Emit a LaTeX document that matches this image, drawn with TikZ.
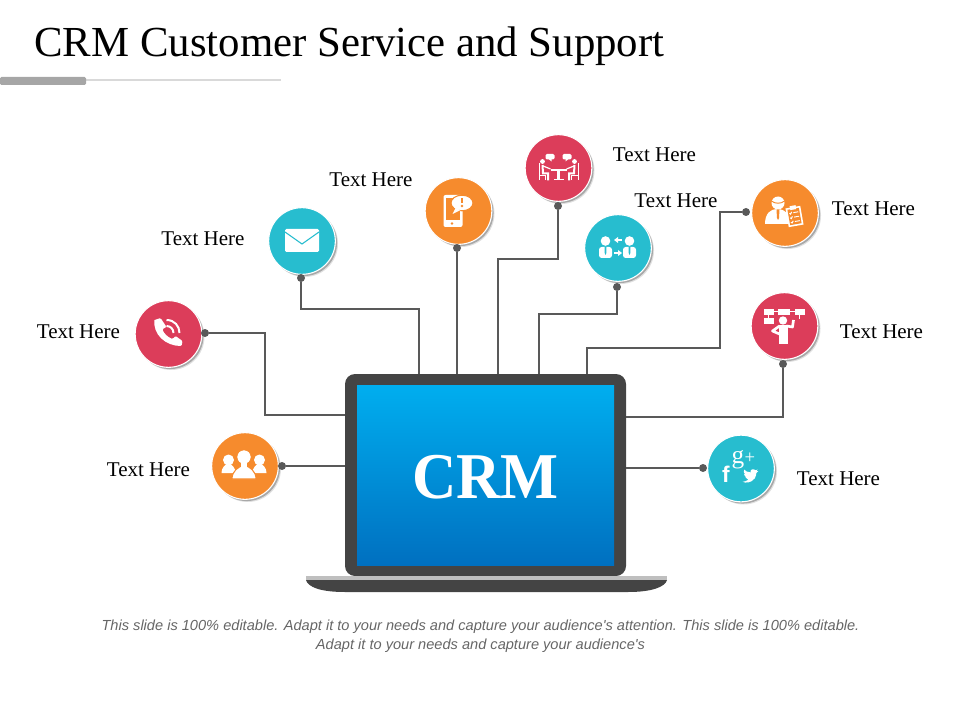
\documentclass[tikz,border=0pt]{standalone}
\usepackage{fontspec}
\setmainfont{Liberation Serif}
\newfontfamily\notefont{Liberation Sans}
\usetikzlibrary{shadows, positioning}
\definecolor{crmred}{HTML}{DC3D5A}
\definecolor{crmteal}{HTML}{27BDCF}
\definecolor{crmorange}{HTML}{F68B2D}
\definecolor{crmdark}{HTML}{444444}
\definecolor{crmline}{HTML}{595959}
\definecolor{crmtop}{HTML}{00AEEF}
\definecolor{crmbottom}{HTML}{0070C0}
\tikzset{
  badge/.style={circle, draw=white, line width=0.8pt, minimum size=50pt, inner sep=0pt,
    drop shadow={shadow xshift=2pt, shadow yshift=-2pt, fill=black, opacity=0.12},
    drop shadow={shadow xshift=1.3pt, shadow yshift=-1.3pt, fill=black, opacity=0.25}},
  tip/.style={circle, fill=crmline, minimum size=6pt, inner sep=0pt},
  wire/.style={draw=crmline, line width=1.5pt},
  label/.style={font=\fontsize{15.75}{18}\selectfont, text=black, inner sep=0pt, yshift=-0.75pt},
  ink/.style={fill=white, draw=none},
  pics/mailicon/.style={code={
    \fill[ink, rounded corners=1pt] (-17,-12) rectangle (17,11);
    \draw[crmteal, line width=0.8pt] (-17,-9) -- (0,3) -- (17,-9);
  }},
  pics/callicon/.style={code={
    \fill[ink, rounded corners=0.8pt] (-14,-14) -- (-8,-16) -- (-2,-7) -- (-6,-5) .. controls (-5,-1) and (-1,3) .. (4,5) -- (7,2) -- (14,7) -- (13,12) .. controls (-3,12) and (-16,0) .. (-14,-14);
    \draw[white, line width=1.5pt] (-2,-8) .. controls (2,-8) and (5,-5) .. (5,-1);
    \draw[white, line width=1.5pt] (-2,-14) .. controls (6,-14) and (11,-8) .. (11,-1);
  }},
  pics/teamicon/.style={code={
    \foreach \px/\py in {-16.5/-6, 14.5/-6} {
      \fill[ink] (\px,\py) circle (5.5);
      \fill[ink] (\px-7,\py+13) .. controls (\px-7,\py+8) and (\px-4,\py+5) .. (\px,\py+3) .. controls (\px+4,\py+5) and (\px+7,\py+8) .. (\px+7,\py+13) -- cycle;
    }
    \fill[ink, draw=crmorange, line width=0.8pt] (-1,-9) circle (7);
    \fill[ink, draw=crmorange, line width=0.8pt] (-13,13) .. controls (-13,5) and (-7,1) .. (-1,-1) .. controls (5,1) and (11,5) .. (11,13) -- cycle;
    \fill[ink] (-1,-9) circle (6.6);
    \fill[ink] (-4,-4) rectangle (2,2);
  }},
  pics/mobileicon/.style={code={
    \fill[ink, rounded corners=1.5pt] (-15,-16) rectangle (4,16);
    \fill[crmorange] (-12.5,-12.5) rectangle (1.5,9);
    \fill[crmorange] (-6.5,12.5) circle (1.4);
    \fill[ink, draw=crmorange, line width=0.8pt] (3.5,-8) ellipse (11 and 7.8);
    \fill[ink] (-3,-3) -- (-6,3) -- (2,-1) -- cycle;
    \fill[crmorange] (2.2,-13) rectangle (4.8,-7.5);
    \fill[crmorange] (3.5,-5) circle (1.4);
  }},
  pics/meetingicon/.style={code={
    \fill[ink, rounded corners=1pt] (-13,-14) rectangle (-4,-8.5);
    \fill[ink] (-10,-9) -- (-7,-9) -- (-7,-6.5) -- cycle;
    \fill[ink, rounded corners=1pt] (4,-14) rectangle (13,-8.5);
    \fill[ink] (7,-9) -- (10,-9) -- (7,-6.5) -- cycle;
    \fill[ink] (-8,1.5) rectangle (8,3);
    \fill[ink] (-1.2,3) rectangle (1.2,11);
    \fill[ink] (-5,11) rectangle (5,12.5);
    \foreach \sgn in {-1,1} {
      \fill[ink] (\sgn*16,-6.5) circle (2.4);
      \draw[white, line width=1.5pt] (\sgn*16,-3) -- (\sgn*15.5,5.5) -- (\sgn*10.5,5.5) -- (\sgn*10.5,12.5);
      \draw[white, line width=0.9pt] (\sgn*15.5,-2) -- (\sgn*8,1);
      \draw[white, line width=0.6pt] (\sgn*19.5,-5) -- (\sgn*19.5,12.5);
      \draw[white, line width=0.6pt] (\sgn*19.5,7.5) -- (\sgn*13,7.5) -- (\sgn*13,12.5);
    }
  }},
  pics/swapicon/.style={code={
    \foreach \sgn/\px in {-1/-12.5, 1/11.5} {
      \fill[ink] (\px,-7) circle (4.8);
      \fill[ink, rounded corners=2pt] (\px-6.5,10) rectangle (\px+6.5,-1);
      \fill[crmteal] (\px-1,-1) -- (\px+1,-1) -- (\px+0.8,5) -- (\px,7) -- (\px-0.8,5) -- cycle;
    }
    \fill[ink] (4,-9) rectangle (0,-7);
    \fill[ink] (0,-11) -- (0,-5) -- (-4,-8) -- cycle;
    \fill[ink] (-4,4) rectangle (0,6);
    \fill[ink] (0,2) -- (0,8) -- (4,5) -- cycle;
  }},
  pics/agenticon/.style={code={
    \fill[ink] (-7,-10) circle (6.5);
    \fill[ink] (-20,11) .. controls (-20,0) and (-14,-4) .. (-8,-4) .. controls (-3,-4) and (1,-2) .. (3,2) -- (3,11) -- cycle;
    \draw[crmorange, line width=0.7pt] (-13.5,-12) .. controls (-10,-9) and (-4,-9) .. (-0.5,-12);
    \fill[crmorange] (-8.5,-3.5) -- (-5.5,-3.5) -- (-6,5) -- (-7,7) -- (-8,5) -- cycle;
    \begin{scope}[shift={(9.5,3.5)}, rotate=10]
      \fill[ink] (-7.5,-9.5) rectangle (7.5,9.5);
      \fill[crmorange] (-5.8,-7.8) rectangle (5.8,7.8);
      \fill[ink] (-3,-11) rectangle (3,-7);
      \foreach \py in {-3,1.5,6} {
        \draw[white, line width=0.7pt] (-4.5,\py-1) -- (-3.5,\py) -- (-2,\py-2);
        \draw[white, line width=0.7pt] (-0.5,\py-1) -- (4.5,\py-1);
      }
    \end{scope}
  }},
  pics/planicon/.style={code={
    \fill[ink] (-21,-17) rectangle (-11,-11.5);
    \fill[ink] (-7,-17) rectangle (5,-11.5);
    \fill[ink] (10,-17) rectangle (20,-11.5);
    \fill[ink] (-21,-8) rectangle (-11,-2);
    \draw[white, line width=0.6pt] (-11,-14.2) -- (-7,-14.2) (5,-14.2) -- (10,-14.2) (-16,-11.5) -- (-16,-8) (15,-11.5) -- (15,-7);
    \fill[ink] (-1.5,-5.5) circle (4.2);
    \fill[ink] (-6,-1) -- (3,-1) -- (3,18) -- (-6,18) -- cycle;
    \draw[white, line width=2pt, line join=round] (-5,0) -- (-12,5) -- (-5,8);
    \draw[white, line width=2pt, line join=round] (2,0) -- (8,1) -- (9,-6);
  }},
  pics/socialicon/.style={code={
    \node[text=white, inner sep=0pt, font=\fontsize{17}{17}\bfseries\notefont] (fmark) at (-15,5.5) {f};
    \node[text=white, inner sep=0pt, font=\fontsize{19}{19}\selectfont] (gmark) at (-3,-9) {g};
    \node[text=white, inner sep=0pt, font=\fontsize{14}{14}\selectfont] (plusmark) at (9,-10) {+};
    \begin{scope}[shift={(5.2,3.2)}, scale=0.72]
    \fill[ink] (-5,14) .. controls (-1,16) and (7,16) .. (12,9) .. controls (14,6) and (14,3) .. (14,2) -- (17,-1) -- (14,-0.5) -- (16,-3) -- (13,-2) .. controls (10,-5) and (5,-3) .. (6,1) .. controls (2,1) and (-1,-1) .. (-3,-3) .. controls (-4,0) and (-3,2) .. (-1,4) -- (-3,3) .. controls (-3,6) and (-1,7) .. (1,8) -- (-1,8) .. controls (0,10) and (1,10) .. (3,11) .. controls (0,13) and (-2,14) .. (-5,14) -- cycle;
    \end{scope}
  }},
}
\begin{document}
\begin{tikzpicture}[x=0.75pt, y=-0.75pt]
\useasboundingbox (0,0) rectangle (960,720);
% title and rule
\node[anchor=base west, inner sep=0pt, font=\fontsize{32.1}{40}\selectfont] (title) at (34,57) {CRM Customer Service and Support};
\fill[black!15] (86,79.5) rectangle (281,81.5);
\fill[black!35, rounded corners=1pt] (0,77) rectangle (86,85);

% laptop
\fill[crmdark, rounded corners=7.5pt] (345,374) rectangle (626,576);
\fill[top color=crmtop, bottom color=crmbottom] (357,385) rectangle (614,565);
\fill[crmdark] (306,580) .. controls (308,587) and (320,592) .. (345,592) -- (628,592) .. controls (652,592) and (665,587) .. (667,580) -- cycle;
\fill[black!25] (306,576) rectangle (667,580);
\node[font=\fontsize{49}{50}\bfseries\selectfont, text=white, inner sep=0pt] (crm) at (485.5,477) {\scalebox{0.94}[1]{CRM}};

% badges
\node[badge, fill=crmred] (call) at (168.5,334) {};
\node[badge, fill=crmteal] (mail) at (302,241) {};
\node[badge, fill=crmorange] (mobile) at (458.5,211) {};
\node[badge, fill=crmred] (meeting) at (558.5,168) {};
\node[badge, fill=crmteal] (swap) at (618,248) {};
\node[badge, fill=crmorange] (agent) at (785,213) {};
\node[badge, fill=crmred] (plan) at (784.5,326) {};
\node[badge, fill=crmteal] (social) at (741,468.5) {};
\node[badge, fill=crmorange] (team) at (245,466) {};

% connector tips
\node[tip] (calltip) at (205,333) {};
\node[tip] (mailtip) at (301,278) {};
\node[tip] (mobiletip) at (457,248) {};
\node[tip] (meetingtip) at (558,206) {};
\node[tip] (swaptip) at (617,287) {};
\node[tip] (agenttip) at (746,212) {};
\node[tip] (plantip) at (783,364) {};
\node[tip] (socialtip) at (703,468) {};
\node[tip] (teamtip) at (282,466) {};

% connector ends on the laptop
\coordinate (callend) at (345,415);
\coordinate (mailend) at (419,374);
\coordinate (mobileend) at (457,374);
\coordinate (meetingend) at (498,374);
\coordinate (swapend) at (539,374);
\coordinate (agentend) at (587,374);
\coordinate (planend) at (626,417);
\coordinate (socialend) at (626,468);
\coordinate (teamend) at (345,466);

\draw[wire] (calltip) -- (265,333) -- (265,415) -- (callend);
\draw[wire] (mailtip) -- (301,309) -- (419,309) -- (mailend);
\draw[wire] (mobiletip) -- (mobileend);
\draw[wire] (meetingtip) -- (558,259) -- (498,259) -- (meetingend);
\draw[wire] (swaptip) -- (617,314) -- (539,314) -- (swapend);
\draw[wire] (agenttip) -- (720,212) -- (720,348) -- (587,348) -- (agentend);
\draw[wire] (plantip) -- (783,417) -- (planend);
\draw[wire] (socialtip) -- (socialend);
\draw[wire] (teamtip) -- (teamend);

% icons
\pic at (call) {callicon};
\pic at (mail) {mailicon};
\pic at (mobile) {mobileicon};
\pic at (meeting) {meetingicon};
\pic at (swap) {swapicon};
\pic at (agent) {agenticon};
\pic at (plan) {planicon};
\pic at (social) {socialicon};
\pic at (team) {teamicon};

% labels
\node[label] (calltext) at (78.5,331) {Text Here};
\node[label] (mailtext) at (203,238) {Text Here};
\node[label] (mobiletext) at (371,179) {Text Here};
\node[label] (meetingtext) at (654.5,154) {Text Here};
\node[label] (swaptext) at (676,200) {Text Here};
\node[label] (agenttext) at (873.5,208) {Text Here};
\node[label] (plantext) at (881.5,331) {Text Here};
\node[label] (socialtext) at (838.5,478) {Text Here};
\node[label] (teamtext) at (148.5,469) {Text Here};

% note
\node[align=center, inner sep=0pt, text=black!60, font=\fontsize{10.95}{14.25}\itshape\notefont] (note) at (480.5,636.5) {This slide is 100\% editable. Adapt it to your needs and capture your audience's attention. This slide is 100\% editable.\\Adapt it to your needs and capture your audience's};
\end{tikzpicture}
\end{document}
